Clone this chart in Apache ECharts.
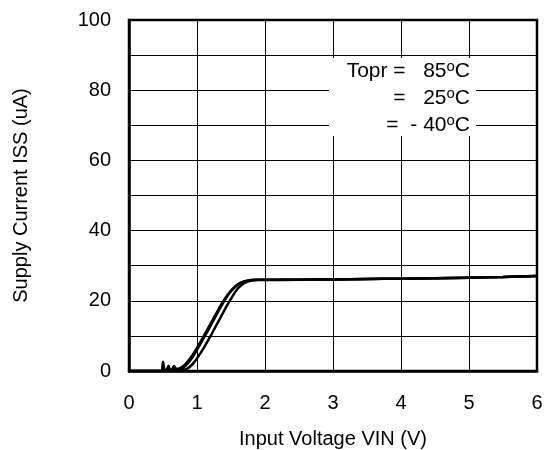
<!DOCTYPE html>
<html>
<head>
<meta charset="utf-8">
<script src="https://cdn.jsdelivr.net/npm/echarts@6/dist/echarts.min.js"></script>
<style>html,body{margin:0;padding:0;background:#fff}#c{width:544px;height:450px}</style>
</head>
<body>
<div id="c"></div>
<script>
var voltage = [0, 0.3, 0.48, 0.5, 0.52, 0.55, 0.58, 0.6, 0.63, 0.66, 0.7, 0.75, 0.8, 0.85, 0.9, 0.95, 1.0, 1.1, 1.2, 1.3, 1.4, 1.5, 1.6, 1.7, 1.8, 1.9, 2.0, 2.5, 3, 3.5, 4, 4.5, 5, 5.5, 6];
var iss85 = [0, 0, 0, 2.6, 0.4, 0.3, 1.5, 0.5, 0.3, 1.2, 0.6, 0.8, 1.4, 2.4, 3.6, 5.0, 6.6, 10.0, 13.5, 17.0, 20.3, 22.9, 24.7, 25.6, 25.9, 26.0, 26.0, 26.0, 26.1, 26.2, 26.3, 26.4, 26.6, 26.8, 27.1];
var iss25 = [0, 0, 0, 2.0, 0.3, 0.2, 1.0, 0.4, 0.2, 1.4, 0.4, 0.5, 1.0, 1.9, 3.0, 4.4, 6.0, 9.4, 12.9, 16.5, 19.9, 22.7, 24.6, 25.5, 25.9, 26.0, 26.0, 26.0, 26.1, 26.2, 26.3, 26.4, 26.6, 26.8, 27.1];
var issM40 = [0, 0, 0, 0.3, 0, 0, 0.3, 0.1, 0, 0.4, 0.2, 0.2, 0.3, 0.6, 1.3, 2.3, 3.6, 6.6, 10.0, 13.6, 17.2, 20.6, 23.5, 25.1, 25.8, 25.9, 25.9, 26.0, 26.1, 26.2, 26.3, 26.4, 26.6, 26.8, 27.1];
var xTicks = [0, 1, 2, 3, 4, 5, 6];
var yTicks = [0, 20, 40, 60, 80, 100];
var legendRows = ['{m|Topr =   85}{s|o}{m|C}', '{m|=   25}{s|o}{m|C}', '{m|=  - 40}{s|o}{m|C}'];

var FONT = 'Liberation Sans, Arial, sans-serif';
function pairs(ys) { return voltage.map(function (v, i) { return [v, ys[i]]; }); }
function mkSeries(name, ys) {
  return {
    name: name, type: 'line', data: pairs(ys), showSymbol: false, smooth: 0.3,
    lineStyle: { color: '#000', width: 2.5 }, z: 3, animation: false
  };
}
var chart = echarts.init(document.getElementById('c'), null, { renderer: 'canvas' });
var legendGraphics = [{
  type: 'rect', shape: { x: 329, y: 58, width: 147, height: 78 },
  style: { fill: '#fff' }, z: 100
}];
var rowY = [71, 98, 125];
legendRows.forEach(function (t, i) {
  legendGraphics.push({
    type: 'text', z: 101,
    style: {
      text: t, x: 470, y: rowY[i], align: 'right', verticalAlign: 'middle',
      fill: '#000', fontSize: 21, fontFamily: FONT,
      rich: {
        m: { fontSize: 21, fontFamily: FONT, fill: '#000', lineHeight: 24 },
        s: { fontSize: 15, fontFamily: FONT, fill: '#000', lineHeight: 15, padding: [0, 0, 9, 0] }
      }
    }
  });
});
chart.setOption({
  backgroundColor: '#fff',
  animation: false,
  grid: { left: 129, right: 7, top: 20, bottom: 79, show: true, borderColor: '#000', borderWidth: 2.5, backgroundColor: 'transparent', outerBoundsMode: 'none', containLabel: false },
  xAxis: {
    type: 'value', min: 0, max: 6, interval: 1,
    name: 'Input Voltage VIN (V)', nameLocation: 'middle', nameGap: 58,
    nameTextStyle: { fontSize: 20, fontFamily: FONT, color: '#000' },
    axisLine: { lineStyle: { color: '#000', width: 2.5 } },
    axisTick: { show: false },
    axisLabel: { margin: 22, fontSize: 20, fontFamily: FONT, color: '#000',
      formatter: function (v) { return xTicks.indexOf(v) >= 0 ? String(v) : ''; } },
    splitLine: { show: true, lineStyle: { color: '#000', width: 1 } }
  },
  yAxis: {
    type: 'value', min: 0, max: 100, interval: 10,
    name: 'Supply Current ISS (uA)', nameLocation: 'middle', nameGap: 98,
    nameTextStyle: { fontSize: 20, fontFamily: FONT, color: '#000' },
    axisLine: { show: true, lineStyle: { color: '#000', width: 2.5 } },
    axisTick: { show: false },
    axisLabel: { margin: 18, fontSize: 20, fontFamily: FONT, color: '#000',
      formatter: function (v) { return yTicks.indexOf(v) >= 0 ? String(v) : ''; } },
    splitLine: { show: true, lineStyle: { color: '#000', width: 1 } }
  },
  series: [mkSeries('85', iss85), mkSeries('25', iss25), mkSeries('-40', issM40)],
  graphic: legendGraphics
});
</script>
</body>
</html>
